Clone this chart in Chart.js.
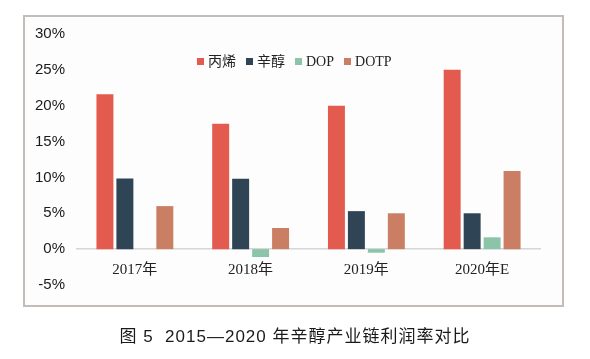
<!DOCTYPE html>
<html lang="zh">
<head>
<meta charset="utf-8">
<title>2015—2020 年辛醇产业链利润率对比</title>
<script src="https://cdn.jsdelivr.net/npm/chart.js@4/dist/chart.umd.min.js"></script>
<style>
  html, body {
    margin: 0;
    padding: 0;
    background: #ffffff;
  }
  .page {
    position: relative;
    width: 590px;
    height: 359px;
    overflow: hidden;
  }
  .frame {
    position: absolute;
    left: 23px;
    top: 15px;
    width: 537px;
    height: 288px;
    border: 2px solid #c2bdb8;
    background: #fdfdfd;
  }
  #profitChart {
    position: absolute;
    left: 0;
    top: 0;
  }
  .legend {
    position: absolute;
    left: 197px;
    top: 53px;
    height: 18px;
    line-height: 18px;
    white-space: nowrap;
    font-family: "Liberation Serif", "Noto Sans CJK SC", serif;
    font-size: 14px;
    color: #222222;
  }
  .legend span.item {
    display: inline-block;
    margin-right: 10px;
  }
  .legend span.box {
    display: inline-block;
    width: 7px;
    height: 7px;
    margin-right: 4px;
    vertical-align: 1px;
  }
  .caption {
    position: absolute;
    left: 0;
    width: 590px;
    top: 322px;
    text-align: center;
    font-family: "Liberation Sans", "Noto Sans CJK SC", sans-serif;
    font-size: 17px;
    letter-spacing: 1px;
    color: #1a1a1a;
    padding-right: 4px;
  }
</style>
</head>
<body>
<div class="page">
  <div class="frame"></div>
  <canvas id="profitChart" width="590" height="359"></canvas>
  <div class="legend" id="legend"></div>
  <div class="caption">图 5&nbsp;&nbsp;2015—2020 年辛醇产业链利润率对比</div>
</div>

<script>
// Chart data (profit margin, %)
const years = ["2017年", "2018年", "2019年", "2020年E"];
const propylene = [21.6, 17.5, 20.0, 25.0];
const octanol = [9.85, 9.8, 5.3, 5.0];
const dop = [0, -1.1, -0.5, 1.65];
const dotp = [6.0, 2.95, 5.0, 10.9];
const yTicks = [-5, 0, 5, 10, 15, 20, 25, 30];

const seriesNames = ["丙烯", "辛醇", "DOP", "DOTP"];
const seriesColors = ["#e35b4f", "#2f4555", "#8cc4aa", "#ca7e63"];

document.addEventListener("DOMContentLoaded", function () {
  const chart = createProfitChart();
  buildLegend(chart);
});

function createProfitChart() {
  const ctx = document.getElementById("profitChart");
  if (!ctx) return null;

  const seriesData = [propylene, octanol, dop, dotp];

  return new Chart(ctx, {
    type: "bar",
    data: {
      labels: years,
      datasets: seriesData.map((values, i) => ({
        label: seriesNames[i],
        data: values,
        backgroundColor: seriesColors[i],
        borderWidth: 0,
        categoryPercentage: 0.69,
        barPercentage: 0.85,
      })),
    },
    options: {
      responsive: false,
      animation: false,
      layout: {
        padding: { left: 0, top: 34, right: 50, bottom: 74 },
      },
      plugins: {
        legend: { display: false },
        tooltip: { enabled: false },
      },
      scales: {
        x: {
          position: { y: 0 },
          grid: { display: false, drawTicks: false },
          border: { display: true, color: "#d6d6d6", width: 1.5 },
          ticks: {
            color: "#222222",
            padding: 12,
            font: {
              family: "'Liberation Serif', 'Noto Sans CJK SC', serif",
              size: 15,
            },
          },
        },
        y: {
          min: yTicks[0],
          max: yTicks[yTicks.length - 1],
          afterFit: function (scale) {
            scale.width = 77;
          },
          afterBuildTicks: function (scale) {
            scale.ticks = yTicks.map((v) => ({ value: v }));
          },
          grid: { display: false, drawTicks: false },
          border: { display: false },
          ticks: {
            color: "#1a1a1a",
            padding: 12,
            font: {
              family: "'Liberation Sans', Arial, sans-serif",
              size: 15,
            },
            callback: function (value) {
              return value + "%";
            },
          },
        },
      },
    },
  });
}

// Legend built from the chart's datasets
function buildLegend(chart) {
  const legend = document.getElementById("legend");
  if (!chart || !legend) return;
  legend.innerHTML = chart.data.datasets
    .map(
      (ds) =>
        `<span class="item"><span class="box" style="background:${ds.backgroundColor}"></span>${ds.label}</span>`
    )
    .join("");
}
</script>
</body>
</html>
